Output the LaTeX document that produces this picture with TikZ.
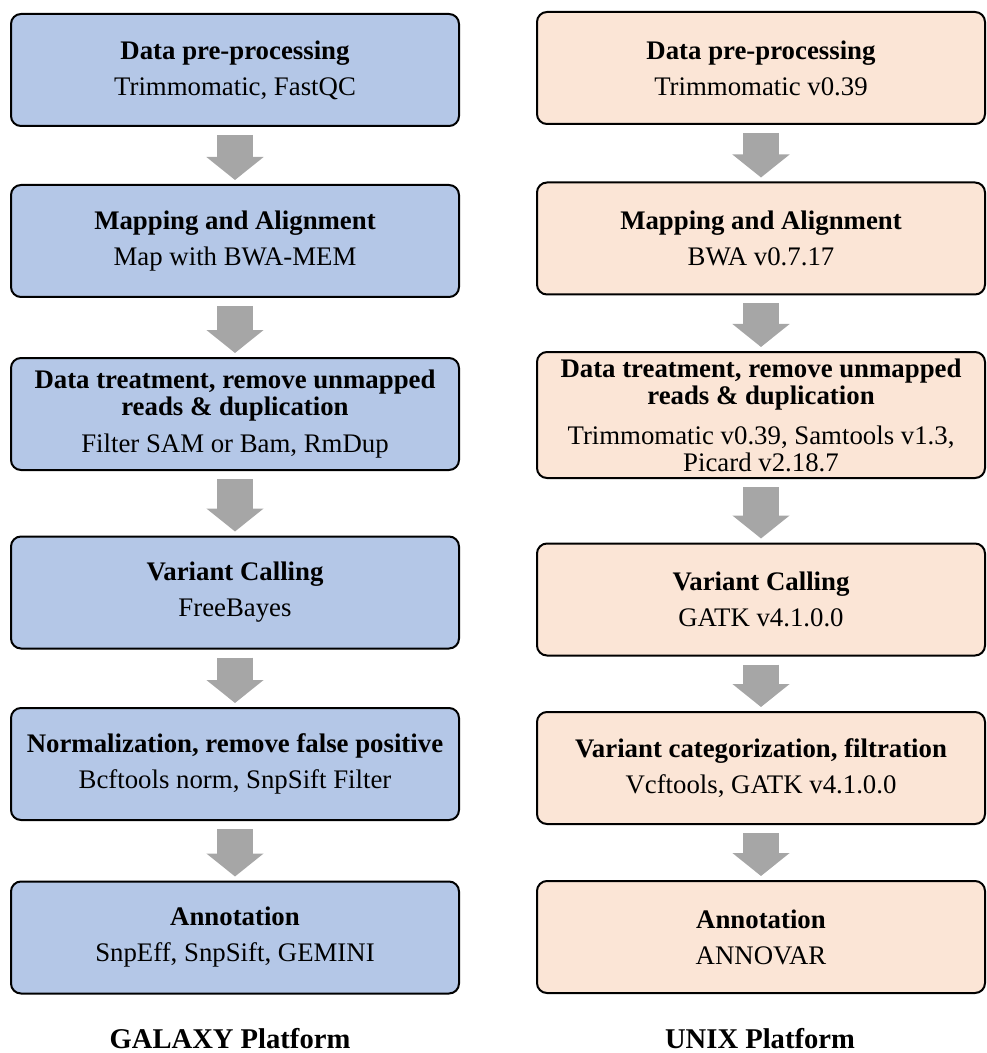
\documentclass[tikz,border=0pt]{standalone}
\usepackage{fontspec}
\setmainfont{Liberation Serif}
\usetikzlibrary{arrows.meta}
\definecolor{galaxyblue}{HTML}{B4C7E7}
\definecolor{unixpeach}{HTML}{FBE5D6}
\definecolor{arrowgray}{HTML}{A6A6A6}
\tikzset{
  box/.style={draw, line width=1pt, rounded corners=5pt, align=center, minimum width=224pt, minimum height=56pt, inner sep=0pt, font=\fontsize{13.4}{13.5}\selectfont},
  kgalaxy/.style={box, fill=galaxyblue}, kunix/.style={box, fill=unixpeach},
  platform/.style={anchor=base, font=\fontsize{14.3}{16}\selectfont\bfseries},
  flow/.style={-{Triangle[length=11.5pt, width=28pt]}, line width=18pt, draw=arrowgray, shorten <=4pt, shorten >=2pt},
}

\begin{document}
\begin{tikzpicture}[x=0.5pt, y=-0.5pt]
    \useasboundingbox (0,0) rectangle (986,1053);
    % GALAXY column
    \node[kgalaxy] (galpre) at (235,70) {\textbf{Data pre-processing}\\[4.5pt]Trimmomatic, FastQC};
    \node[kgalaxy] (galmap) at (235,241) {\textbf{Mapping and Alignment}\\[4.5pt]Map with BWA-MEM};
    \node[kgalaxy] (galtreat) at (235,414) {\textbf{Data treatment, remove unmapped}\\\textbf{reads \& duplication}\\[5pt]Filter SAM or Bam, RmDup};
    \node[kgalaxy] (galcall) at (235,592.5) {\textbf{Variant Calling}\\[4.5pt]FreeBayes};
    \node[kgalaxy] (galnorm) at (235,764) {\textbf{Normalization, remove false positive}\\[4.5pt]Bcftools norm, SnpSift Filter};
    \node[kgalaxy] (galannot) at (235,937.5) {\textbf{Annotation}\\[4.5pt]SnpEff, SnpSift, GEMINI};
    % UNIX column
    \node[kunix] (unixpre) at (761,68) {\textbf{Data pre-processing}\\[4.5pt]Trimmomatic v0.39};
    \node[kunix] (unixmap) at (761,238.5) {\textbf{Mapping and Alignment}\\[4.5pt]BWA v0.7.17};
    \node[kunix, minimum height=63pt] (unixtreat) at (761,415) {\textbf{Data treatment, remove unmapped}\\\textbf{reads \& duplication}\\[6.5pt]Trimmomatic v0.39, Samtools v1.3,\\Picard v2.18.7};
    \node[kunix] (unixcall) at (761,599.5) {\textbf{Variant Calling}\\[4.5pt]GATK v4.1.0.0};
    \node[kunix] (unixfilt) at (761,768) {\textbf{Variant categorization, filtration}\\[4.5pt]Vcftools, GATK v4.1.0.0};
    \node[kunix] (unixannot) at (761,937) {\textbf{Annotation}\\[4.5pt]ANNOVAR};
    % platform names
    \node[platform] (galaxylabel) at (230,1048) {GALAXY Platform};
    \node[platform] (unixlabel) at (760,1048) {UNIX Platform};
    % block arrows
    \draw[flow] (galpre) -- (galmap);
    \draw[flow] (galmap) -- (galtreat);
    \draw[flow] (galtreat) -- (galcall);
    \draw[flow] (galcall) -- (galnorm);
    \draw[flow] (galnorm) -- (galannot);
    \draw[flow] (unixpre) -- (unixmap);
    \draw[flow] (unixmap) -- (unixtreat);
    \draw[flow] (unixtreat) -- (unixcall);
    \draw[flow] (unixcall) -- (unixfilt);
    \draw[flow] (unixfilt) -- (unixannot);
\end{tikzpicture}
\end{document}
